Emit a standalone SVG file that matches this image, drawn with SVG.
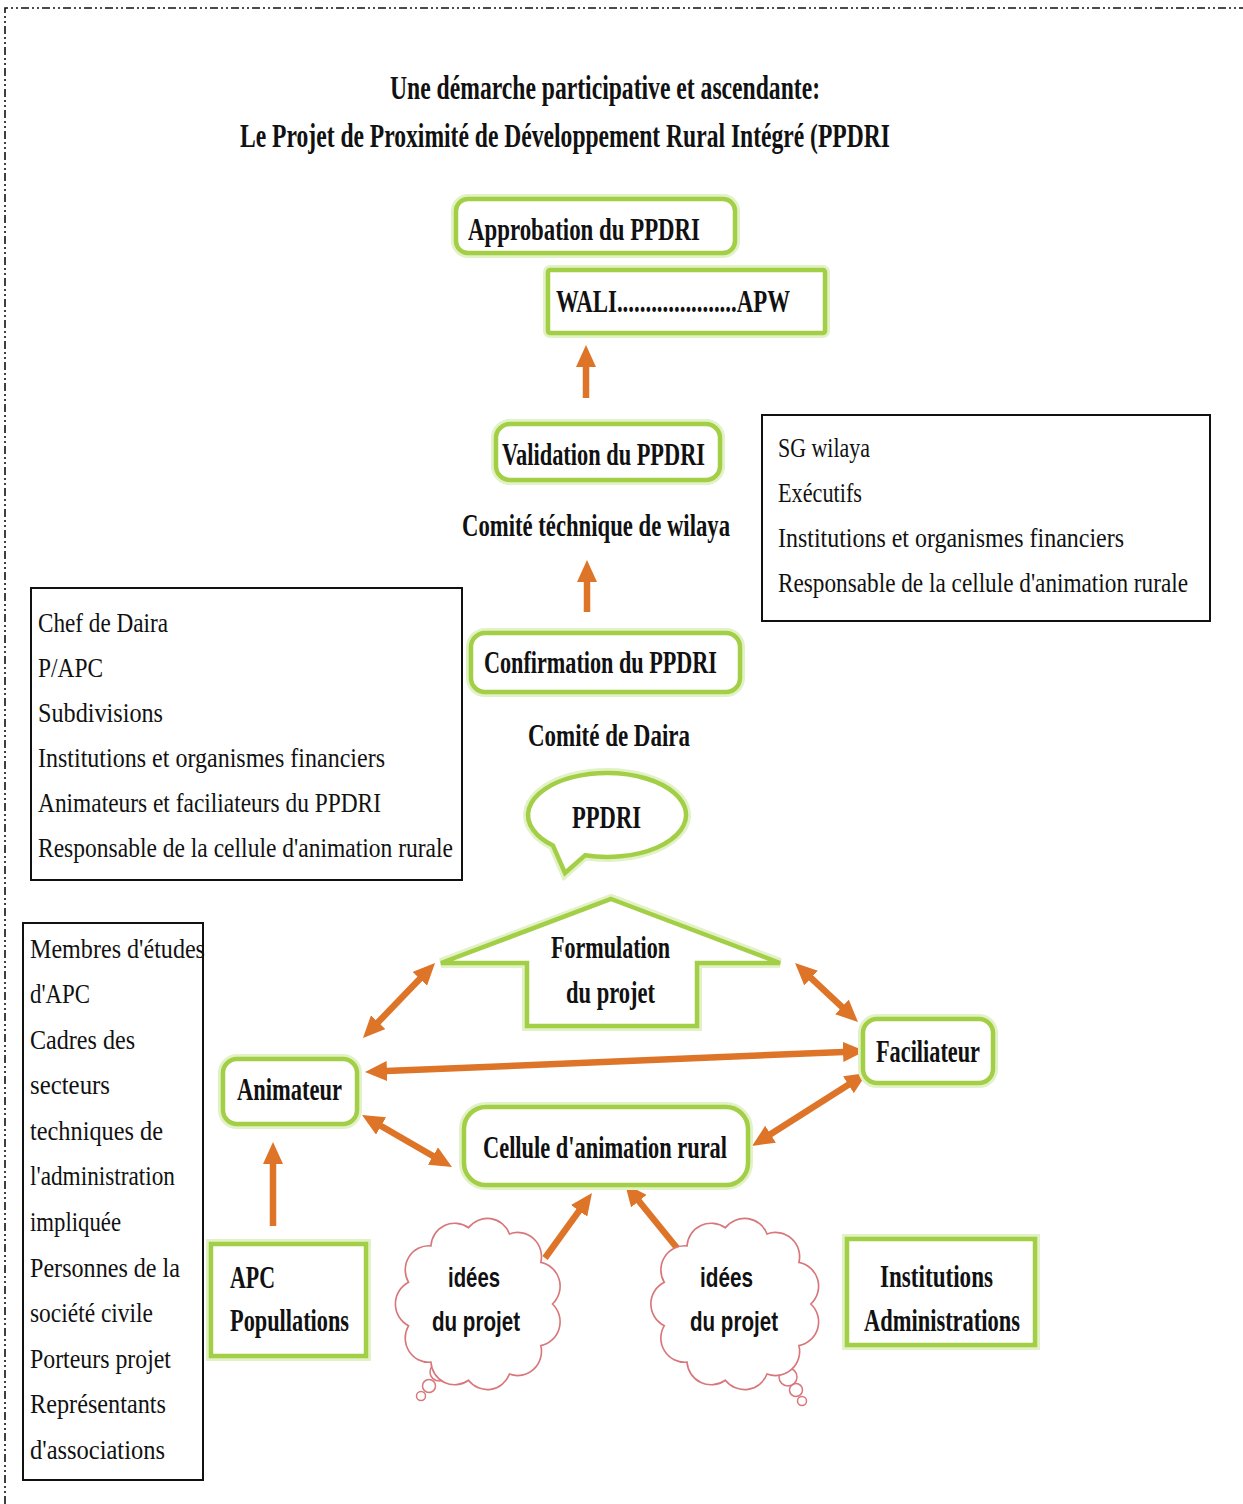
<svg xmlns="http://www.w3.org/2000/svg" width="1243" height="1504" viewBox="0 0 1243 1504">
<style>
.bg{fill:#fff}
.frame{fill:none;stroke:#111;stroke-width:1.6;stroke-dasharray:8 3 2 3 2 3}
.t{font-family:"Liberation Serif","Times New Roman",serif;font-weight:bold;fill:#111;}
.h{font-size:33px}
.n{font-size:32px}
.l{font-family:"Liberation Serif","Times New Roman",serif;font-size:28px;fill:#111}
.c{font-family:"Liberation Sans",Arial,sans-serif;font-weight:bold;font-size:28px;fill:#111}
.gb{fill:#fff;stroke:#a2cf45;stroke-width:4.5}
.glow{fill:none;stroke:#e2f1c6;stroke-width:10}
.lb{fill:#fff;stroke:#111;stroke-width:2}
.cl{fill:#fff;stroke:#d8767a;stroke-width:1.5}
.ar{fill:none;stroke:#de7428;stroke-width:6.5}
</style>
<defs>
<marker id="ah" markerUnits="userSpaceOnUse" markerWidth="22" markerHeight="20" viewBox="0 0 22 20" refX="13" refY="10" orient="auto-start-reverse">
<path d="M0,0 L22,10 L0,20 Z" fill="#de7428"/>
</marker>
<path id="cloud" d="M68,0 A22,22 0 0 1 57.2,37.8 A22,22 0 0 1 28.2,63.7 A22,22 0 0 1 -9.7,69.3 A22,22 0 0 1 -44.5,52.9 A22,22 0 0 1 -65.2,19.7 A22,22 0 0 1 -65.2,-19.7 A22,22 0 0 1 -44.5,-52.9 A22,22 0 0 1 -9.7,-69.3 A22,22 0 0 1 28.2,-63.7 A22,22 0 0 1 57.2,-37.8 A22,22 0 0 1 68,0 Z"/>
</defs>
<rect class="bg" x="0" y="0" width="1243" height="1504"/>
<path class="frame" d="M5,1504 L5,8 L1243,8"/>

<g id="title">
<text class="t h" x="390" y="99" textLength="430" lengthAdjust="spacingAndGlyphs">Une démarche participative et ascendante:</text>
<text class="t h" x="240" y="147" textLength="650" lengthAdjust="spacingAndGlyphs">Le Projet de Proximité de Développement Rural Intégré (PPDRI</text>
</g>

<g id="connectors">
<line class="ar" x1="586" y1="398" x2="586" y2="354" marker-end="url(#ah)"/>
<line class="ar" x1="587" y1="612" x2="587" y2="569" marker-end="url(#ah)"/>
<line class="ar" x1="273" y1="1226" x2="273" y2="1151" marker-end="url(#ah)"/>
<line class="ar" x1="545" y1="1258" x2="586.7" y2="1200.3" marker-end="url(#ah)"/>
<line class="ar" x1="677" y1="1248" x2="630.7" y2="1191" marker-end="url(#ah)"/>
<line class="ar" x1="369.2" y1="1031.5" x2="428.8" y2="969.5" marker-start="url(#ah)" marker-end="url(#ah)"/>
<line class="ar" x1="801.6" y1="969.2" x2="851.4" y2="1015.8" marker-start="url(#ah)" marker-end="url(#ah)"/>
<line class="ar" x1="374" y1="1071.6" x2="856" y2="1051.4" marker-start="url(#ah)" marker-end="url(#ah)"/>
<line class="ar" x1="369.8" y1="1119.5" x2="444.2" y2="1162.5" marker-start="url(#ah)" marker-end="url(#ah)"/>
<line class="ar" x1="759.6" y1="1141.2" x2="859.4" y2="1077.8" marker-start="url(#ah)" marker-end="url(#ah)"/>
</g>

<g id="approbation">
<rect class="glow" x="456" y="199" width="279" height="54" rx="12"/>
<rect class="gb" x="456" y="199" width="279" height="54" rx="12"/>
<text class="t n" x="468" y="240" textLength="232" lengthAdjust="spacingAndGlyphs">Approbation du PPDRI</text>
</g>
<g id="wali">
<rect class="glow" x="548" y="270" width="277" height="63" rx="2"/>
<rect class="gb" x="548" y="270" width="277" height="63" rx="2"/>
<text class="t n" x="556" y="312" textLength="234" lengthAdjust="spacingAndGlyphs">WALI.....................APW</text>
</g>
<g id="validation">
<rect class="glow" x="496" y="424" width="224" height="56" rx="14"/>
<rect class="gb" x="496" y="424" width="224" height="56" rx="14"/>
<text class="t n" x="502" y="465" textLength="203" lengthAdjust="spacingAndGlyphs">Validation du PPDRI</text>
</g>
<g id="comite-wilaya">
<text class="t n" x="462" y="536" textLength="268" lengthAdjust="spacingAndGlyphs">Comité téchnique de wilaya</text>
</g>
<g id="confirmation">
<rect class="glow" x="471" y="633" width="269" height="59" rx="14"/>
<rect class="gb" x="471" y="633" width="269" height="59" rx="14"/>
<text class="t n" x="484" y="673" textLength="233" lengthAdjust="spacingAndGlyphs">Confirmation du PPDRI</text>
</g>
<g id="comite-daira">
<text class="t n" x="528" y="746" textLength="162" lengthAdjust="spacingAndGlyphs">Comité de Daira</text>
</g>
<g id="ppdri">
<path class="glow" d="M585,855.3 A79,42 0 1 0 553,845.6 L565,873 Z"/>
<path class="gb" d="M585,855.3 A79,42 0 1 0 553,845.6 L565,873 Z"/>
<text class="t n" x="572" y="828" textLength="69" lengthAdjust="spacingAndGlyphs">PPDRI</text>
</g>
<g id="formulation">
<polygon class="glow" points="611,899 780,963 697,963 697,1026 527,1026 527,963 441,963"/>
<polygon class="gb" points="611,899 780,963 697,963 697,1026 527,1026 527,963 441,963"/>
<text class="t n" x="551" y="958" textLength="119" lengthAdjust="spacingAndGlyphs">Formulation</text>
<text class="t n" x="566" y="1003" textLength="89" lengthAdjust="spacingAndGlyphs">du projet</text>
</g>

<g id="wilaya-members">
<rect class="lb" x="762" y="415" width="448" height="206"/>
<text class="l" x="778" y="457" textLength="92" lengthAdjust="spacingAndGlyphs">SG wilaya</text>
<text class="l" x="778" y="502" textLength="84" lengthAdjust="spacingAndGlyphs">Exécutifs</text>
<text class="l" x="778" y="547" textLength="346" lengthAdjust="spacingAndGlyphs">Institutions et organismes financiers</text>
<text class="l" x="778" y="592" textLength="410" lengthAdjust="spacingAndGlyphs">Responsable de la cellule d'animation rurale</text>
</g>
<g id="daira-members">
<rect class="lb" x="31" y="588" width="431" height="292"/>
<text class="l" x="38" y="632" textLength="130" lengthAdjust="spacingAndGlyphs">Chef de Daira</text>
<text class="l" x="38" y="677" textLength="65" lengthAdjust="spacingAndGlyphs">P/APC</text>
<text class="l" x="38" y="722" textLength="125" lengthAdjust="spacingAndGlyphs">Subdivisions</text>
<text class="l" x="38" y="767" textLength="347" lengthAdjust="spacingAndGlyphs">Institutions et organismes financiers</text>
<text class="l" x="38" y="812" textLength="343" lengthAdjust="spacingAndGlyphs">Animateurs et faciliateurs du PPDRI</text>
<text class="l" x="38" y="857" textLength="415" lengthAdjust="spacingAndGlyphs">Responsable de la cellule d'animation rurale</text>
</g>
<g id="apc-members">
<rect class="lb" x="23" y="923" width="180" height="557"/>
<text class="l" x="30" y="958" textLength="175" lengthAdjust="spacingAndGlyphs">Membres d'études</text>
<text class="l" x="30" y="1003" textLength="60" lengthAdjust="spacingAndGlyphs">d'APC</text>
<text class="l" x="30" y="1049" textLength="105" lengthAdjust="spacingAndGlyphs">Cadres des</text>
<text class="l" x="30" y="1094" textLength="80" lengthAdjust="spacingAndGlyphs">secteurs</text>
<text class="l" x="30" y="1140" textLength="133" lengthAdjust="spacingAndGlyphs">techniques de</text>
<text class="l" x="30" y="1185" textLength="145" lengthAdjust="spacingAndGlyphs">l'administration</text>
<text class="l" x="30" y="1231" textLength="91" lengthAdjust="spacingAndGlyphs">impliquée</text>
<text class="l" x="30" y="1277" textLength="150" lengthAdjust="spacingAndGlyphs">Personnes de la</text>
<text class="l" x="30" y="1322" textLength="123" lengthAdjust="spacingAndGlyphs">société civile</text>
<text class="l" x="30" y="1368" textLength="141" lengthAdjust="spacingAndGlyphs">Porteurs projet</text>
<text class="l" x="30" y="1413" textLength="136" lengthAdjust="spacingAndGlyphs">Représentants</text>
<text class="l" x="30" y="1459" textLength="135" lengthAdjust="spacingAndGlyphs">d'associations</text>
</g>

<g id="animateur">
<rect class="glow" x="223" y="1059" width="134" height="65" rx="14"/>
<rect class="gb" x="223" y="1059" width="134" height="65" rx="14"/>
<text class="t n" x="237" y="1100" textLength="105" lengthAdjust="spacingAndGlyphs">Animateur</text>
</g>
<g id="faciliateur">
<rect class="glow" x="863" y="1019" width="130" height="64" rx="14"/>
<rect class="gb" x="863" y="1019" width="130" height="64" rx="14"/>
<text class="t n" x="876" y="1062" textLength="104" lengthAdjust="spacingAndGlyphs">Faciliateur</text>
</g>
<g id="cellule">
<rect class="glow" x="464" y="1107" width="284" height="78" rx="22"/>
<rect class="gb" x="464" y="1107" width="284" height="78" rx="22"/>
<text class="t n" x="483" y="1158" textLength="244" lengthAdjust="spacingAndGlyphs">Cellule d'animation rural</text>
</g>
<g id="apc">
<rect class="glow" x="211" y="1244" width="155" height="112"/>
<rect class="gb" x="211" y="1244" width="155" height="112"/>
<text class="t n" x="230" y="1288" textLength="45" lengthAdjust="spacingAndGlyphs">APC</text>
<text class="t n" x="230" y="1331" textLength="119" lengthAdjust="spacingAndGlyphs">Popullations</text>
</g>
<g id="institutions">
<rect class="glow" x="847" y="1239" width="188" height="106"/>
<rect class="gb" x="847" y="1239" width="188" height="106"/>
<text class="t n" x="880" y="1287" textLength="113" lengthAdjust="spacingAndGlyphs">Institutions</text>
<text class="t n" x="864" y="1331" textLength="156" lengthAdjust="spacingAndGlyphs">Administrations</text>
</g>
<g id="idees-1">
<circle class="cl" cx="421" cy="1396" r="4.5"/>
<circle class="cl" cx="429" cy="1386" r="6.5"/>
<circle class="cl" cx="439" cy="1372" r="9"/>
<use href="#cloud" class="cl" transform="translate(479,1304) scale(1.08,1.1)"/>
<text class="c" x="448" y="1287" textLength="52" lengthAdjust="spacingAndGlyphs">idées</text>
<text class="c" x="432" y="1331" textLength="88" lengthAdjust="spacingAndGlyphs">du projet</text>
</g>
<g id="idees-2">
<circle class="cl" cx="802" cy="1401" r="4.5"/>
<circle class="cl" cx="796" cy="1390" r="6.5"/>
<circle class="cl" cx="788" cy="1377" r="9"/>
<use href="#cloud" class="cl" transform="translate(736,1304) scale(1.1,1.1)"/>
<text class="c" x="700" y="1287" textLength="53" lengthAdjust="spacingAndGlyphs">idées</text>
<text class="c" x="690" y="1331" textLength="88" lengthAdjust="spacingAndGlyphs">du projet</text>
</g>
</svg>
